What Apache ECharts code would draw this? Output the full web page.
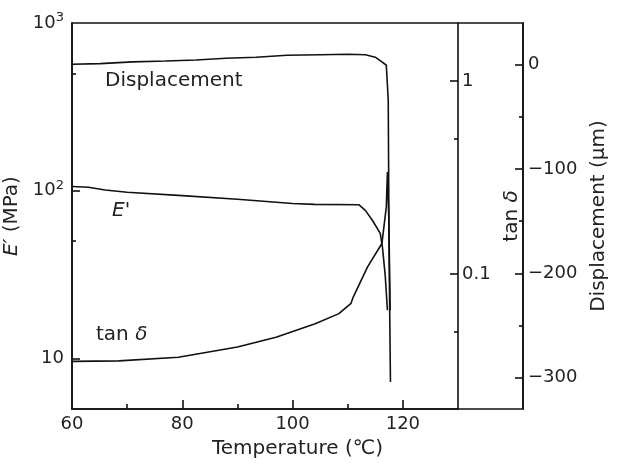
<!DOCTYPE html>
<html><head><meta charset="utf-8">
<script src="https://cdn.jsdelivr.net/npm/echarts@6/dist/echarts.min.js"></script>
<style>html,body{margin:0;padding:0;background:#fff}#c{width:617px;height:465px}</style>
</head><body><div id="c"></div>
<script>
// ---- tick labels / tick positions ----
const tempLabels = [60, 80, 100, 120];
const tempMajorTicks = [80, 100, 120];
const tempMinorTicks = [70, 90, 110];
const eLabels = [10, 100, 1000];
const eMajorTicks = [10, 100];
const eMinorTicks = [50, 500];
const tanLabels = [0.1, 1];
const tanMinorTicks = [0.05, 0.5];
const dispLabels = [0, -100, -200, -300];
const dispMinorTicks = [-50, -150, -250];

// ---- series data ----
const eTemp  = [60, 63, 66, 70, 80, 90, 100, 104, 112, 113.2, 114.5, 115.9, 116.3, 116.8, 117.2];
const eValue = [106, 105, 101, 98, 93.5, 89, 84, 83, 82.6, 76.4, 66.5, 55.7, 46, 31.3, 19.4];

const tanTemp  = [60, 68.5, 79.3, 90, 97, 104.1, 108.4, 110.6, 111, 113.6, 116.2, 117.0, 117.2, 117.45, 117.7];
const tanValue = [0.0353, 0.0355, 0.0371, 0.0419, 0.0471, 0.0553, 0.0624, 0.0706, 0.076, 0.109, 0.144, 0.223, 0.338, 0.195, 0.065];

const dispTemp  = [60, 65.1, 71, 77, 82.5, 87.9, 93.4, 99, 105, 110, 113.2, 115, 116.2, 117.0, 117.2, 117.35, 117.5, 117.75];
const dispValue = [0.5, 1.1, 2.7, 3.6, 4.6, 6.2, 7.2, 9.1, 9.6, 10, 9.6, 7.2, 2.7, -0.5, -2.4, -34, -178, -304];

const FONT = 'DejaVu Sans';
const TXT = '#222';
const LINE = '#111';
const zip = (a, b) => a.map((v, i) => [v, b[i]]);

const chart = echarts.init(document.getElementById('c'), null, {renderer: 'canvas'});
const hidden = {show: false};
const lineStyle = {color: LINE, width: 1.6};
const axLine = {show: true, onZero: false, lineStyle: {color: LINE, width: 1.6}};
const noLine = {show: false, onZero: false};
const tickStyle = {color: LINE, width: 1.6};

function tickAxisBase(extra) {
  return Object.assign({
    axisLine: noLine, axisLabel: hidden, splitLine: hidden
  }, extra);
}

const option = {
  animation: false,
  backgroundColor: '#fff',
  textStyle: {fontFamily: FONT, color: TXT},
  grid: [
    {left: 72, right: 159, top: 23, bottom: 56, containLabel: false, outerBoundsMode: 'none'},
    {left: 72, right: 94, top: 23, bottom: 56, containLabel: false, outerBoundsMode: 'none',
     show: true, borderColor: LINE, borderWidth: 1.6, backgroundColor: 'transparent', z: 0}
  ],
  xAxis: [
    {
      gridIndex: 0, type: 'value', min: 60, max: 130, position: 'bottom', z: 20,
      axisLine: axLine,
      axisTick: {show: true, inside: true, length: 9, customValues: tempMajorTicks, lineStyle: tickStyle},
      axisLabel: {show: true, customValues: tempLabels, fontSize: 18, fontFamily: FONT, color: TXT, margin: 6},
      splitLine: hidden
    },
    tickAxisBase({
      gridIndex: 0, type: 'value', min: 60, max: 130, position: 'bottom', z: 20,
      axisTick: {show: true, inside: true, length: 5, customValues: tempMinorTicks, lineStyle: tickStyle}
    }),
    {
      gridIndex: 1, type: 'value', min: 0, max: 1, position: 'bottom',
      axisLine: noLine, axisTick: hidden, axisLabel: hidden, splitLine: hidden,
      name: 'Temperature (℃)', nameLocation: 'middle', nameGap: 30,
      nameTextStyle: {fontSize: 20, fontFamily: FONT, color: TXT}
    }
  ],
  yAxis: [
    {
      gridIndex: 0, type: 'log', logBase: 10, min: 5, max: 1000, position: 'left',
      axisLine: axLine,
      axisTick: {show: true, inside: true, length: 8, customValues: eMajorTicks, lineStyle: tickStyle},
      axisLabel: {
        show: true, customValues: eLabels, fontSize: 18, fontFamily: FONT, color: TXT, margin: 8, lineHeight: 24,
        formatter: v => { const e = Math.round(Math.log10(v)); return e === 1 ? '10' : '10{s|' + e + '}'; },
        rich: {s: {fontSize: 13, lineHeight: 13, verticalAlign: 'top', fontFamily: FONT, color: TXT}}
      },
      splitLine: hidden,
      name: '{i|E′} (MPa)', nameLocation: 'middle', nameGap: 44,
      nameTextStyle: {fontSize: 20, fontFamily: FONT, color: TXT,
        rich: {i: {fontStyle: 'italic', fontSize: 20, fontFamily: FONT, color: TXT}}}
    },
    tickAxisBase({
      gridIndex: 0, type: 'log', logBase: 10, min: 5, max: 1000, position: 'left',
      axisTick: {show: true, inside: true, length: 4, customValues: eMinorTicks, lineStyle: tickStyle}
    }),
    {
      gridIndex: 0, type: 'log', logBase: 10, min: 0.02, max: 2, position: 'right',
      axisLine: axLine,
      axisTick: {show: true, inside: true, length: 8, customValues: tanLabels, lineStyle: tickStyle},
      axisLabel: {show: true, customValues: tanLabels, fontSize: 18, fontFamily: FONT, color: TXT, margin: 4,
        formatter: v => String(parseFloat(v.toPrecision(3)))},
      splitLine: hidden,
      name: 'tan {i|δ}', nameLocation: 'middle', nameGap: 27,
      nameTextStyle: {fontSize: 20, fontFamily: FONT, color: TXT,
        rich: {i: {fontStyle: 'italic', fontSize: 20, fontFamily: FONT, color: TXT}}}
    },
    tickAxisBase({
      gridIndex: 0, type: 'log', logBase: 10, min: 0.02, max: 2, position: 'right',
      axisTick: {show: true, inside: true, length: 4, customValues: tanMinorTicks, lineStyle: tickStyle}
    }),
    {
      gridIndex: 0, type: 'value', min: -330, max: 40, position: 'right', offset: 65,
      axisLine: axLine,
      axisTick: {show: true, inside: true, length: 8, customValues: dispLabels, lineStyle: tickStyle},
      axisLabel: {show: true, customValues: dispLabels, fontSize: 18, fontFamily: FONT, color: TXT, margin: 5,
        formatter: v => v < 0 ? '−' + Math.abs(v) : String(v)},
      splitLine: hidden,
      name: 'Displacement (μm)', nameLocation: 'middle', nameGap: 63,
      nameTextStyle: {fontSize: 20, fontFamily: FONT, color: TXT}
    },
    tickAxisBase({
      gridIndex: 0, type: 'value', min: -330, max: 40, position: 'right', offset: 65,
      axisTick: {show: true, inside: true, length: 4, customValues: dispMinorTicks, lineStyle: tickStyle}
    }),
    {gridIndex: 1, type: 'value', min: 0, max: 1, show: false, axisLine: noLine}
  ],
  series: [
    {name: "E'", type: 'line', xAxisIndex: 0, yAxisIndex: 0, data: zip(eTemp, eValue),
     showSymbol: false, symbol: 'none', lineStyle: lineStyle, z: 5},
    {name: 'tan δ', type: 'line', xAxisIndex: 0, yAxisIndex: 2, data: zip(tanTemp, tanValue),
     showSymbol: false, symbol: 'none', lineStyle: lineStyle, z: 5},
    {name: 'Displacement', type: 'line', xAxisIndex: 0, yAxisIndex: 4, data: zip(dispTemp, dispValue),
     showSymbol: false, symbol: 'none', lineStyle: lineStyle, z: 5}
  ],
  graphic: [
    {type: 'text', left: 105, top: 71, style: {text: 'Displacement', fontSize: 20, fontFamily: FONT, fill: TXT}},
    {type: 'text', left: 112, top: 201, style: {text: "E'", fontSize: 20, fontStyle: 'italic', fontFamily: FONT, fill: TXT}},
    {type: 'text', left: 96, top: 325, style: {text: 'tan {i|δ}', fontSize: 20, fontFamily: FONT, fill: TXT,
      rich: {i: {fontStyle: 'italic', fontSize: 20, fontFamily: FONT, fill: TXT}}}}
  ]
};
chart.setOption(option);
</script>
</body></html>
